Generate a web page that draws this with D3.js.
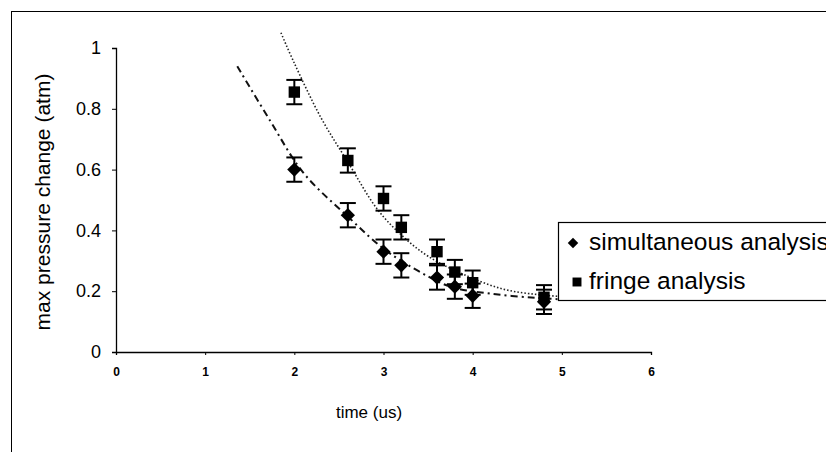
<!DOCTYPE html>
<html>
<head>
<meta charset="utf-8">
<script src="https://cdn.jsdelivr.net/npm/d3@7"></script>
<style>
  body { margin: 0; background: #fff; }
  svg { display: block; font-family: Arial, "Liberation Sans", sans-serif; }
</style>
</head>
<body>
<div id="chart"></div>
<script>
// measured data (time in us, pressure change in atm)
const simTime = [2.0, 2.6, 3.0, 3.2, 3.6, 3.8, 4.0, 4.8];
const simValues = [0.60, 0.45, 0.33, 0.285, 0.245, 0.215, 0.185, 0.165];
const fringeTime = [2.0, 2.6, 3.0, 3.2, 3.6, 3.8, 4.0, 4.8];
const fringeValues = [0.855, 0.63, 0.505, 0.41, 0.33, 0.263, 0.228, 0.18];
const errorSize = 0.04;

// trendlines
const simTrend = [[1.36, 0.94], [1.73, 0.76], [2.1, 0.59], [2.62, 0.44], [3.0, 0.34],
  [3.37, 0.27], [3.75, 0.215], [4.2, 0.192], [4.72, 0.178], [5.13, 0.171]];
const fringeTrend = [[1.85, 1.05], [2.0, 0.95], [2.3, 0.77], [2.6, 0.625], [2.93, 0.47],
  [3.2, 0.385], [3.5, 0.315], [3.9, 0.255], [4.34, 0.207], [4.76, 0.188], [5.1, 0.181]];

const xTicks = [0, 1, 2, 3, 4, 5, 6];
const yTicks = [0, 0.2, 0.4, 0.6, 0.8, 1];
const legendLabels = ["simultaneous analysis", "fringe analysis"];

const W = 826, H = 452;
const svg = d3.select("#chart").append("svg")
    .attr("width", W)
    .attr("height", H);

// outer frame
svg.append("rect")
    .attr("x", 11.5).attr("y", 11.5)
    .attr("width", 840).attr("height", 460)
    .attr("fill", "none")
    .attr("stroke", "#000")
    .attr("stroke-width", 1);

const xScale = d3.scaleLinear().domain([0, 6]).range([116, 651]);
const yScale = d3.scaleLinear().domain([0, 1]).range([352, 48]);

// y axis
const yAxis = svg.append("g")
    .attr("transform", `translate(${xScale(0)},0)`)
    .call(d3.axisLeft(yScale).tickValues(yTicks).tickSize(4).tickPadding(11)
        .tickFormat(d => String(+d.toFixed(1))));
yAxis.select(".domain").attr("stroke", "#000").attr("stroke-width", 1.3);
yAxis.selectAll("text").attr("font-size", 18).attr("fill", "#000")
    .attr("font-family", "Arial, 'Liberation Sans', sans-serif");

// x axis
const xAxis = svg.append("g")
    .attr("transform", `translate(0,${yScale(0)})`)
    .call(d3.axisBottom(xScale).tickValues(xTicks).tickSize(3).tickPadding(12)
        .tickFormat(d3.format("d")));
xAxis.select(".domain").attr("stroke", "#000").attr("stroke-width", 1.3);
xAxis.selectAll("text").attr("font-size", 12).attr("font-weight", "bold").attr("fill", "#000")
    .attr("font-family", "Arial, 'Liberation Sans', sans-serif");

// axis titles
svg.append("text")
    .attr("transform", `translate(50,${(yScale(0) + yScale(1)) / 2 + 2}) rotate(-90)`)
    .attr("text-anchor", "middle")
    .attr("font-size", 21)
    .text("max pressure change (atm)");

svg.append("text")
    .attr("x", 369).attr("y", 418)
    .attr("text-anchor", "middle")
    .attr("font-size", 17)
    .text("time (us)");

// trendlines
const line = d3.line()
    .x(d => xScale(d[0]))
    .y(d => yScale(d[1]))
    .curve(d3.curveCatmullRom.alpha(0.5));

svg.append("path")
    .datum(fringeTrend)
    .attr("d", line)
    .attr("fill", "none")
    .attr("stroke", "#222")
    .attr("stroke-width", 1.6)
    .attr("stroke-dasharray", "1.5,2");

svg.append("path")
    .datum(simTrend)
    .attr("d", line)
    .attr("fill", "none")
    .attr("stroke", "#111")
    .attr("stroke-width", 2)
    .attr("stroke-dasharray", "7,4,2,4");

// error bars + markers
function drawSeries(times, values, symbol, size) {
  const g = svg.append("g");
  const pts = times.map((t, i) => ({ t, v: values[i] }));
  const eb = g.selectAll(".eb").data(pts).enter().append("g");
  eb.append("line")
      .attr("x1", d => xScale(d.t)).attr("x2", d => xScale(d.t))
      .attr("y1", d => yScale(d.v + errorSize)).attr("y2", d => yScale(d.v - errorSize))
      .attr("stroke", "#000").attr("stroke-width", 2);
  [errorSize, -errorSize].forEach(e => {
    eb.append("line")
        .attr("x1", d => xScale(d.t) - 8).attr("x2", d => xScale(d.t) + 8)
        .attr("y1", d => yScale(d.v + e)).attr("y2", d => yScale(d.v + e))
        .attr("stroke", "#000").attr("stroke-width", 2);
  });
  g.selectAll(".mk").data(pts).enter().append("path")
      .attr("transform", d => `translate(${xScale(d.t)},${yScale(d.v)})`)
      .attr("d", d3.symbol().type(symbol).size(size))
      .attr("fill", "#000");
}
drawSeries(simTime, simValues, d3.symbolDiamond2, 130);
drawSeries(fringeTime, fringeValues, d3.symbolSquare, 130);

// legend
const legend = svg.append("g");
legend.append("rect")
    .attr("x", 558.5).attr("y", 222.5)
    .attr("width", 300).attr("height", 78)
    .attr("fill", "#fff")
    .attr("stroke", "#000")
    .attr("stroke-width", 1.2);
const legendSymbols = [d3.symbolDiamond2, d3.symbolSquare];
const legendSizes = [70, 80];
legendLabels.forEach((lab, i) => {
  const cy = 243 + i * 39;
  legend.append("path")
      .attr("transform", `translate(${i === 0 ? 573 : 577},${cy})`)
      .attr("d", d3.symbol().type(legendSymbols[i]).size(legendSizes[i]))
      .attr("fill", "#000");
  legend.append("text")
      .attr("x", 589).attr("y", cy + 7)
      .attr("font-size", 24.5)
      .text(lab);
});
</script>
</body>
</html>
